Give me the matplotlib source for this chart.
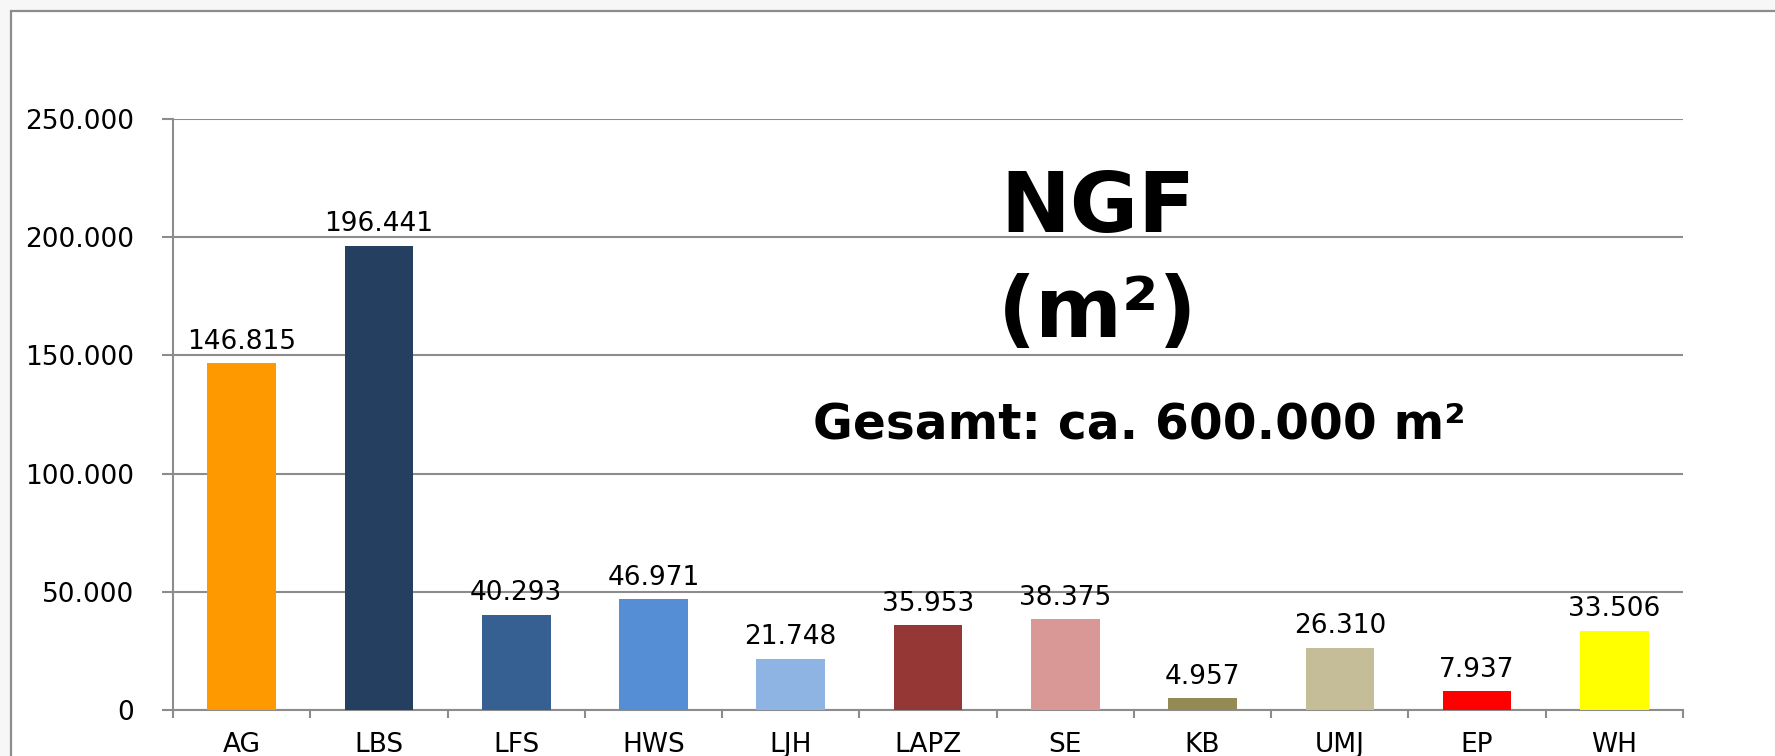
import matplotlib.pyplot as plt
from matplotlib.patches import Rectangle
from matplotlib.ticker import FuncFormatter, FixedLocator

kategorien = ['AG', 'LBS', 'LFS', 'HWS', 'LJH', 'LAPZ', 'SE', 'KB', 'UMJ', 'EP', 'WH']
ngf = [146815, 196441, 40293, 46971, 21748, 35953, 38375, 4957, 26310, 7937, 33506]
farben = ['#FF9900', '#243F60', '#366092', '#558ED5', '#8DB4E3', '#953735',
          '#D99795', '#948A54', '#C4BD97', '#FF0000', '#FFFF00']

def tausender(v, pos=None):
    # deutsche Schreibweise: Punkt als Tausendertrenner
    return f'{int(round(v)):,}'.replace(',', '.')

grau = '#8c8c8c'
plt.rcParams['font.family'] = 'DejaVu Sans'
gr = 19

fig = plt.figure(figsize=(17.75, 7.56), dpi=100, facecolor='#f7f7f7')
# Diagrammrahmen (läuft rechts und unten aus dem Bild)
fig.patches.append(Rectangle((11 / 1775, -0.2), 1.2, 1.2 - 11 / 756,
                             transform=fig.transFigure, facecolor='white',
                             edgecolor=grau, lw=1.6, zorder=-1))

ax = fig.add_axes([173 / 1775, 1 - 710 / 756, (1683 - 173) / 1775, (710 - 119) / 756])
ax.set_facecolor('none')
ax.set_zorder(1)

x = range(len(kategorien))
ax.bar(x, ngf, width=0.5, color=farben, zorder=3)
for xi, v in zip(x, ngf):
    ax.annotate(tausender(v), (xi, v), xytext=(0, 6), textcoords='offset points',
                ha='center', va='bottom', fontsize=gr, color='black')

ax.set_xlim(-0.5, len(kategorien) - 0.5)
ax.set_ylim(0, 250000)
ax.set_yticks(range(0, 250001, 50000))
ax.yaxis.set_major_formatter(FuncFormatter(tausender))
ax.yaxis.grid(True, color=grau, lw=1.5, zorder=0)
ax.set_axisbelow(True)

ax.set_xticks(list(x))
ax.set_xticklabels(kategorien)
ax.xaxis.set_minor_locator(FixedLocator([i - 0.5 for i in range(len(kategorien) + 1)]))
ax.tick_params(axis='x', which='major', length=0, pad=16, labelsize=gr)
ax.tick_params(axis='x', which='minor', length=6, width=1.5, color=grau)
ax.tick_params(axis='y', length=8, width=1.5, color=grau, pad=20, labelsize=gr)

for s in ['top', 'right']:
    ax.spines[s].set_visible(False)
for s in ['left', 'bottom']:
    ax.spines[s].set_color(grau)
    ax.spines[s].set_linewidth(1.5)

fig.text(1098 / 1775, 1 - 232 / 756, 'NGF', ha='center', va='baseline',
         fontsize=60, fontweight='bold')
fig.text(1098 / 1775, 1 - 337 / 756, '(m²)', ha='center', va='baseline',
         fontsize=60, fontweight='bold')
fig.text(1139 / 1775, 1 - 439 / 756, 'Gesamt: ca. 600.000 m²', ha='center',
         va='baseline', fontsize=35, fontweight='bold')

fig.savefig('out.png', dpi=100, facecolor=fig.get_facecolor())
